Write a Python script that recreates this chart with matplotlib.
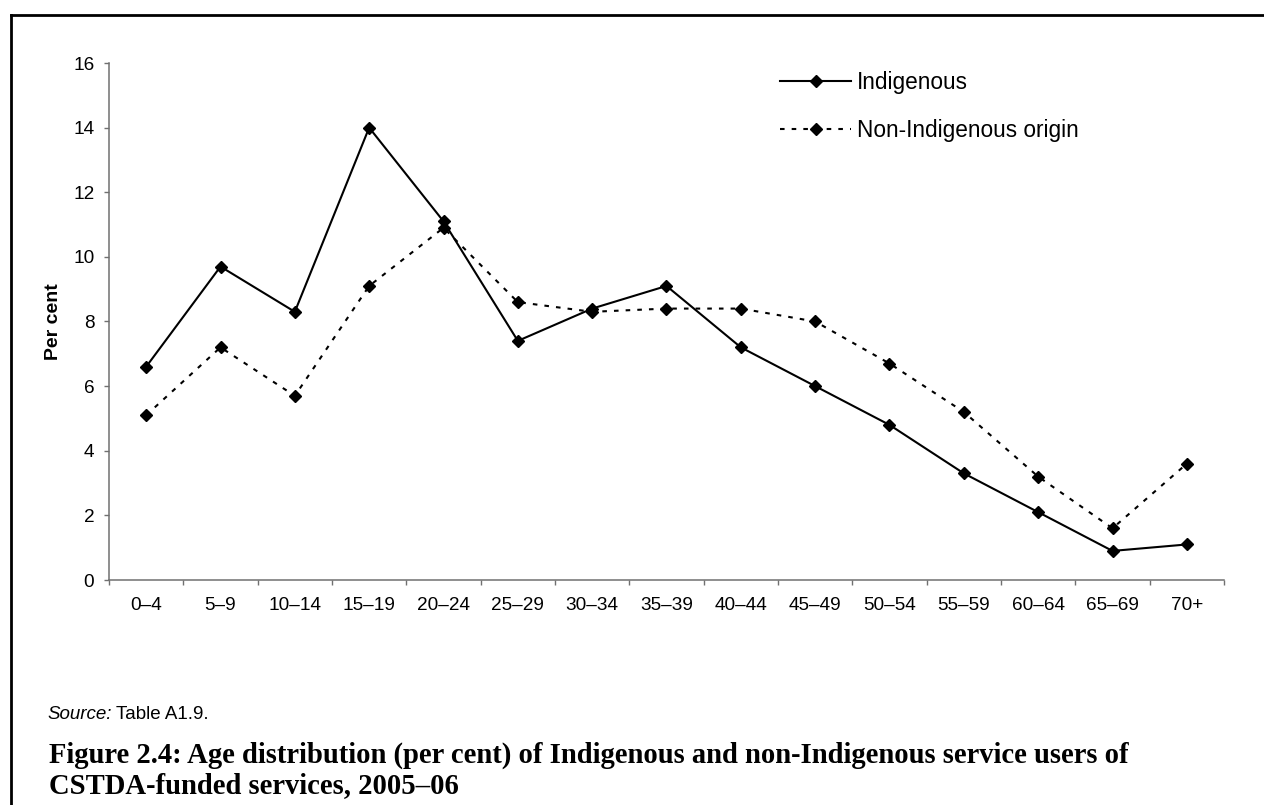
import matplotlib
matplotlib.use("Agg")
import matplotlib.pyplot as plt
from matplotlib.lines import Line2D

age_groups = ["0–4", "5–9", "10–14", "15–19", "20–24", "25–29", "30–34", "35–39",
              "40–44", "45–49", "50–54", "55–59", "60–64", "65–69", "70+"]
indigenous = [6.6, 9.7, 8.3, 14.0, 11.1, 7.4, 8.4, 9.1, 7.2, 6.0, 4.8, 3.3, 2.1, 0.9, 1.1]
non_indigenous = [5.1, 7.2, 5.7, 9.1, 10.9, 8.6, 8.3, 8.4, 8.4, 8.0, 6.7, 5.2, 3.2, 1.6, 3.6]
y_ticks = [0, 2, 4, 6, 8, 10, 12, 14, 16]
title_lines = ["Figure 2.4: Age distribution (per cent) of Indigenous and non-Indigenous service users of",
               "CSTDA-funded services, 2005–06"]

plt.rcParams["font.family"] = ["Liberation Sans", "DejaVu Sans"]

W, H = 1264, 805
fig = plt.figure(figsize=(W / 100, H / 100), dpi=100)
ax = fig.add_axes([109 / W, 1 - 580 / H, (1224 - 109) / W, (580 - 63) / H])

x = list(range(len(age_groups)))
ax.plot(x, indigenous, color="black", lw=1.5, marker="D", ms=6.2,
        label="Indigenous")
ax.plot(x, non_indigenous, color="black", lw=1.5, ls=(0, (2.2, 3.4)), marker="D",
        ms=6.2, label="Non-Indigenous origin")

ax.set_xlim(-0.5, len(age_groups) - 0.5)
ax.set_ylim(0, 16)
ax.set_yticks(y_ticks)
ax.set_yticklabels([str(v) for v in y_ticks], fontsize=13.7)
ax.set_xticks(x)
ax.set_xticklabels(age_groups, fontsize=13.7)
ax.tick_params(axis="x", which="major", length=0, pad=12)
ax.set_xticks([i - 0.5 for i in range(len(age_groups) + 1)], minor=True)
ax.tick_params(axis="x", which="minor", length=3.6, width=1, color="#707070",
               direction="out")
ax.tick_params(axis="y", length=3.6, width=1, color="#707070", pad=7)
for s in ["top", "right"]:
    ax.spines[s].set_visible(False)
for s in ["left", "bottom"]:
    ax.spines[s].set_color("#707070")
    ax.spines[s].set_linewidth(1.1)

fig.text(53 / W, 1 - 322 / H, "Per cent", fontsize=14, fontweight="bold",
         rotation=90, ha="center", va="center")

fig.legend(*ax.get_legend_handles_labels(), loc="upper left",
           bbox_to_anchor=(780 / W, 1 - 71 / H), bbox_transform=fig.transFigure,
           frameon=False, fontsize=16.3, handlelength=3.14, handletextpad=0.27,
           labelspacing=1.1, borderpad=0, borderaxespad=0)

# outer frame (left and top edges only visible)
fig.add_artist(Line2D([11 / W, 11 / W], [1 - 15 / H, 0], transform=fig.transFigure,
                      color="black", lw=2))
fig.add_artist(Line2D([11 / W, 1], [1 - 15 / H, 1 - 15 / H], transform=fig.transFigure,
                      color="black", lw=2))

src = fig.text(47 / W, 1 - 719 / H, "Source:", fontsize=13.5, style="italic",
               va="baseline", ha="left")
fig.canvas.draw()
r = fig.canvas.get_renderer()
bb = src.get_window_extent(r)
fig.text((bb.x1 + 4) / W, 1 - 719 / H, "Table A1.9.", fontsize=13.5,
         va="baseline", ha="left")

# title: scale the font so the first line spans the same width as the reference
serif = ["Liberation Serif", "DejaVu Serif"]
t1 = fig.text(49 / W, 1 - 763 / H, title_lines[0], fontsize=18, fontweight="bold",
              family=serif, va="baseline", ha="left")
w = t1.get_window_extent(r).width
fs = 18 * 1080 / w
t1.set_fontsize(fs)
fig.text(49 / W, 1 - 793 / H, title_lines[1], fontsize=fs, fontweight="bold",
         family=serif, va="baseline", ha="left")

fig.savefig("out.png", dpi=100)
